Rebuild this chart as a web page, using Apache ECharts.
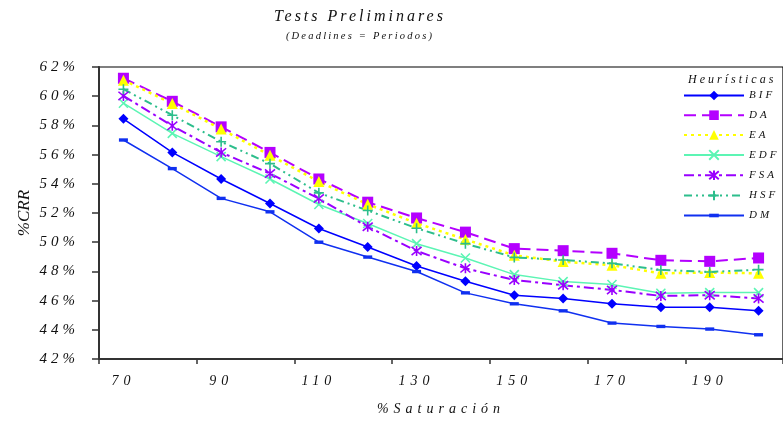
<!DOCTYPE html>
<html>
<head>
<meta charset="utf-8">
<script src="https://cdn.jsdelivr.net/npm/echarts@6/dist/echarts.min.js"></script>
<style>
  html, body { margin: 0; padding: 0; background: #fff; }
  #chart { width: 783px; height: 421px; }
</style>
</head>
<body>
<div id="chart"></div>
<script>
// % saturation levels (category axis)
const saturation = ['70', '80', '90', '100', '110', '120', '130', '140', '150', '160', '170', '180', '190', '200'];

// %CRR per heuristic
const BIF = [58.45, 56.15, 54.33, 52.65, 50.94, 49.67, 48.37, 47.32, 46.37, 46.14, 45.78, 45.55, 45.55, 45.30];
const DA  = [61.23, 59.65, 57.90, 56.15, 54.33, 52.74, 51.66, 50.69, 49.56, 49.42, 49.24, 48.76, 48.69, 48.92];
const EA  = [61.10, 59.50, 57.75, 55.95, 54.15, 52.60, 51.30, 50.19, 49.10, 48.67, 48.42, 47.87, 47.92, 47.87];
const EDF = [59.52, 57.45, 55.86, 54.33, 52.58, 51.28, 49.90, 48.92, 47.78, 47.30, 47.10, 46.50, 46.55, 46.55];
const FSA = [60.02, 57.97, 56.15, 54.70, 52.99, 51.06, 49.40, 48.21, 47.41, 47.05, 46.73, 46.32, 46.37, 46.14];
const HSF = [60.48, 58.70, 56.88, 55.38, 53.38, 52.17, 50.96, 49.90, 48.96, 48.78, 48.55, 48.10, 47.96, 48.12];
const DM  = [57.00, 55.04, 53.00, 52.08, 50.00, 48.98, 47.99, 46.53, 45.78, 45.30, 44.46, 44.23, 44.05, 43.66];

// value axis range and step (percent)
const yMin = 42, yMax = 62, yStep = 2;

// zrender has no letter-spacing option; the canvas 2D context does, so pick it by font size when text is drawn.
const TRACKING = { '16px': '3px', '10.5px': '2.2px', '14px': '5px', '15px': '4px', '11px': '3px', '12px': '3px' };
const nativeFillText = CanvasRenderingContext2D.prototype.fillText;
CanvasRenderingContext2D.prototype.fillText = function (str, x, y, maxWidth) {
  const m = /([\d.]+)px/.exec(this.font);
  this.letterSpacing = (m && TRACKING[m[0]]) || '0px';
  return maxWidth === undefined
    ? nativeFillText.call(this, str, x, y)
    : nativeFillText.call(this, str, x, y, maxWidth);
};

const SERIF = '"Liberation Serif", "Times New Roman", serif';
const INK = '#111';

// Stroke-only marker shapes
const CROSS_X  = 'path://M0,0L10,10M10,0L0,10';
const ASTERISK = 'path://M0,0L10,10M10,0L0,10M5,-1L5,11';
const PLUS     = 'path://M5,0L5,10M0,5L10,5';
// short horizontal bar inside a square box, so it keeps its shape in the legend too
const DASH     = 'path://M0,0M0,2.5H8V5.5H0ZM8,8';

function lineSeries(name, data, color, dash, width, symbol, size, stroked) {
  return {
    name: name,
    type: 'line',
    data: data,
    color: color,
    symbol: symbol,
    symbolSize: size,
    showAllSymbol: true,
    lineStyle: { color: color, width: width, type: dash },
    itemStyle: stroked
      ? { color: 'rgba(0,0,0,0)', borderColor: color, borderWidth: 1.6 }
      : { color: color, borderWidth: 0 },
    emphasis: { disabled: true },
    animation: false
  };
}

const chart = echarts.init(document.getElementById('chart'), null, { renderer: 'canvas' });

chart.setOption({
  backgroundColor: '#fff',
  animation: false,
  graphic: [
    {
      type: 'text', x: 360, y: 17,
      style: { text: 'Tests Preliminares', align: 'center', verticalAlign: 'middle',
               font: 'italic 16px ' + SERIF, fill: INK }
    },
    {
      type: 'text', x: 360, y: 36,
      style: { text: '(Deadlines = Periodos)', align: 'center', verticalAlign: 'middle',
               font: 'italic 10.5px ' + SERIF, fill: INK }
    },
    {
      type: 'text', x: 688, y: 80,
      style: { text: 'Heurísticas', align: 'left', verticalAlign: 'middle',
               font: 'italic 12px ' + SERIF, fill: INK }
    }
  ],
  grid: {
    left: 99, top: 67, width: 694, height: 293,
    show: true, borderColor: '#000', borderWidth: 1.2, backgroundColor: 'transparent'
  },
  legend: {
    orient: 'vertical',
    left: 683, top: 90,
    itemWidth: 60, itemHeight: 12, itemGap: 8.7,
    padding: 0,
    selectedMode: false,
    textStyle: { fontFamily: SERIF, fontStyle: 'italic', fontSize: 11, color: INK },
    data: ['BIF', 'DA', 'EA', 'EDF', 'FSA', 'HSF', 'DM']
  },
  xAxis: {
    type: 'category',
    data: saturation,
    boundaryGap: true,
    name: '%Saturación',
    nameLocation: 'middle',
    nameGap: 43,
    nameTextStyle: { fontFamily: SERIF, fontStyle: 'italic', fontSize: 14, color: INK },
    axisLine: { show: true, lineStyle: { color: '#333', width: 2 } },
    axisTick: { show: true, interval: 1, length: 5, lineStyle: { color: '#333', width: 1.5 } },
    axisLabel: { interval: 1, margin: 15, fontFamily: SERIF, fontStyle: 'italic', fontSize: 14, color: INK },
    splitLine: { show: false }
  },
  yAxis: {
    type: 'value',
    min: yMin, max: yMax, interval: yStep,
    name: '%CRR',
    nameLocation: 'middle',
    nameGap: 66,
    nameTextStyle: { fontFamily: SERIF, fontStyle: 'italic', fontSize: 17, color: INK },
    axisLine: { show: true, lineStyle: { color: '#333', width: 2 } },
    axisTick: { show: true, length: 7, lineStyle: { color: '#333', width: 1.5 } },
    axisLabel: { margin: 20, formatter: '{value}%', fontFamily: SERIF, fontStyle: 'italic', fontSize: 15, color: INK },
    splitLine: { show: false }
  },
  series: [
    lineSeries('BIF', BIF, '#0000FF', 'solid', 1.5, 'diamond', 10, false),
    lineSeries('DA',  DA,  '#B400FF', [12, 6], 2, 'rect', 11, false),
    lineSeries('EA',  EA,  '#FFFF00', [3, 4], 2.5, 'triangle', 11, false),
    lineSeries('EDF', EDF, '#5CF5B4', 'solid', 1.5, CROSS_X, 9, true),
    lineSeries('FSA', FSA, '#9900FF', [10, 4, 3, 4], 2, ASTERISK, 10, true),
    lineSeries('HSF', HSF, '#2DBE8C', [8, 4, 2, 4, 2, 4], 2, PLUS, 10, true),
    lineSeries('DM',  DM,  '#1030F0', 'solid', 1.5, DASH, 9, false)
  ]
});
</script>
</body>
</html>
